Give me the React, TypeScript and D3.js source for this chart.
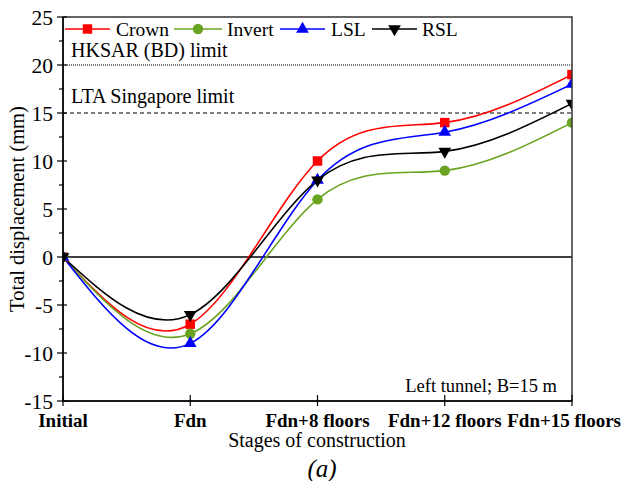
import React, { useEffect, useRef } from 'react';
import * as d3 from 'd3';

const stages = ['Initial', 'Fdn', 'Fdn+8 floors', 'Fdn+12 floors', 'Fdn+15 floors'];
const crown = [0, -7, 10, 14, 19];
const invert = [0, -8, 6, 9, 14];
const lsl = [0, -9, 8, 13, 18];
const rsl = [0, -6, 8, 11, 16];
const yTicks = [-15, -10, -5, 0, 5, 10, 15, 20, 25];

const series = [
    { name: 'Crown', values: crown, color: '#ff0000', symbol: d3.symbolSquare, size: 90, rot: 0 },
    { name: 'Invert', values: invert, color: '#6aa31f', symbol: d3.symbolCircle, size: 85, rot: 0 },
    { name: 'LSL', values: lsl, color: '#0000ff', symbol: d3.symbolTriangle, size: 70, rot: 0 },
    { name: 'RSL', values: rsl, color: '#000000', symbol: d3.symbolTriangle, size: 70, rot: 180 },
];

export default function App() {
    const svgRef = useRef<SVGSVGElement>(null);

    useEffect(() => {
        const svg = d3.select(svgRef.current);
        svg.selectAll('*').remove();

        const left = 63, right = 572, top = 17, bottom = 401;

        const x = d3.scalePoint<string>().domain(stages).range([left, right]);
        const y = d3.scaleLinear().domain([-15, 25]).range([bottom, top]);

        svg.append('clipPath').attr('id', 'plot')
            .append('rect').attr('x', left).attr('y', top)
            .attr('width', right - left).attr('height', bottom - top);

        // reference lines
        svg.append('line').attr('x1', left).attr('x2', right)
            .attr('y1', y(20)).attr('y2', y(20))
            .attr('stroke', '#000').attr('stroke-width', 1).attr('stroke-dasharray', '1,1');
        svg.append('line').attr('x1', left).attr('x2', right)
            .attr('y1', y(15)).attr('y2', y(15))
            .attr('stroke', '#000').attr('stroke-width', 1).attr('stroke-dasharray', '4,3');
        svg.append('line').attr('x1', left).attr('x2', right)
            .attr('y1', y(0)).attr('y2', y(0))
            .attr('stroke', '#000').attr('stroke-width', 1.5);

        svg.append('text').attr('x', 71).attr('y', 57)
            .attr('font-size', 20).text('HKSAR (BD) limit');
        svg.append('text').attr('x', 71).attr('y', 103)
            .attr('font-size', 20).text('LTA Singapore limit');
        svg.append('text').attr('x', 557).attr('y', 392).attr('text-anchor', 'end')
            .attr('font-size', 18.5).text('Left tunnel; B=15 m');

        const line = d3.line<number>()
            .x((d, i) => x(stages[i]) as number)
            .y(d => y(d))
            .curve(d3.curveNatural);

        const g = svg.append('g').attr('clip-path', 'url(#plot)');
        series.forEach(s => {
            g.append('path').attr('d', line(s.values) as string)
                .attr('fill', 'none').attr('stroke', s.color).attr('stroke-width', 1.6);
        });
        series.forEach(s => {
            g.selectAll(null).data(s.values).enter().append('path')
                .attr('d', d3.symbol().type(s.symbol).size(s.size)() as string)
                .attr('transform', (d, i) => `translate(${x(stages[i])},${y(d)}) rotate(${s.rot})`)
                .attr('fill', s.color);
        });

        // frame
        svg.append('rect').attr('x', left).attr('y', top)
            .attr('width', right - left).attr('height', bottom - top)
            .attr('fill', 'none').attr('stroke', '#333').attr('stroke-width', 1.5);

        // y axis
        const yAxis = svg.append('g').attr('transform', `translate(${left},0)`);
        yAxis.append('line').attr('y1', top).attr('y2', bottom).attr('stroke', '#000').attr('stroke-width', 1.5);
        yTicks.forEach(t => {
            yAxis.append('line').attr('x1', -6).attr('x2', 4).attr('y1', y(t)).attr('y2', y(t))
                .attr('stroke', '#000').attr('stroke-width', 1.2);
            yAxis.append('text').attr('x', -10).attr('y', y(t)).attr('dy', '0.35em')
                .attr('text-anchor', 'end').attr('font-size', 21.5).text(t);
        });
        d3.range(-12.5, 25, 5).forEach(t => {
            yAxis.append('line').attr('x1', -4).attr('x2', 0).attr('y1', y(t)).attr('y2', y(t))
                .attr('stroke', '#000').attr('stroke-width', 1.2);
        });

        // x axis
        const xAxis = svg.append('g').attr('transform', `translate(0,${bottom})`);
        xAxis.append('line').attr('x1', left).attr('x2', right).attr('stroke', '#000').attr('stroke-width', 1.5);
        stages.forEach(s => {
            xAxis.append('line').attr('x1', x(s) as number).attr('x2', x(s) as number)
                .attr('y1', -6).attr('y2', 5).attr('stroke', '#000').attr('stroke-width', 1.2);
            const label = xAxis.append('text').attr('x', x(s) as number).attr('y', 26).attr('text-anchor', 'middle')
                .attr('font-size', 19).attr('font-weight', 'bold').text(s);
            // keep the outer labels inside the figure
            const w = (label.node() as SVGTextElement).getComputedTextLength();
            const cx = Math.min(x(s) as number, 621 - w / 2);
            label.attr('x', cx);
        });

        svg.append('text').attr('x', 317).attr('y', 447).attr('text-anchor', 'middle')
            .attr('font-size', 20).text('Stages of construction');
        svg.append('text').attr('x', 322).attr('y', 477).attr('text-anchor', 'middle')
            .attr('font-size', 25).attr('font-style', 'italic').text('(a)');
        svg.append('text').attr('transform', `translate(24,${(top + bottom) / 2}) rotate(-90)`)
            .attr('text-anchor', 'middle').attr('font-size', 20.5)
            .text('Total displacement (mm)');

        // legend
        const legendPos = [
            { x1: 65, x2: 110, tx: 116 },
            { x1: 174, x2: 222, tx: 227 },
            { x1: 280, x2: 325, tx: 331 },
            { x1: 372, x2: 417, tx: 422 },
        ];
        series.forEach((s, i) => {
            const p = legendPos[i];
            const ly = 29;
            svg.append('line').attr('x1', p.x1).attr('x2', p.x2).attr('y1', ly).attr('y2', ly)
                .attr('stroke', s.color).attr('stroke-width', 1.6);
            svg.append('path').attr('d', d3.symbol().type(s.symbol).size(s.size)() as string)
                .attr('transform', `translate(${(p.x1 + p.x2) / 2},${ly}) rotate(${s.rot})`)
                .attr('fill', s.color);
            svg.append('text').attr('x', p.tx).attr('y', ly).attr('dy', '0.35em')
                .attr('font-size', 19.5).text(s.name);
        });
    }, []);

    return (
        <svg ref={svgRef} width={631} height={489}
            style={{ display: 'block', margin: -8, fontFamily: "'Liberation Serif', serif" }} />
    );
}
